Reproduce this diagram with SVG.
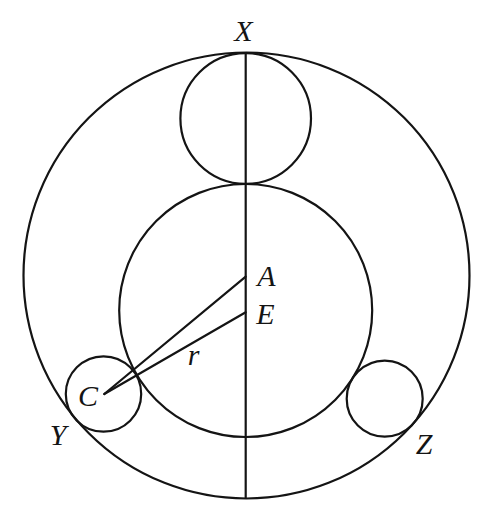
<svg xmlns="http://www.w3.org/2000/svg" width="485" height="509" viewBox="0 0 485 509">
<style>
.c{fill:none;stroke:#141414;stroke-width:2.2}
.l{fill:none;stroke:#141414;stroke-width:2.2;stroke-linecap:round}
.t{font-family:"Liberation Serif","Times New Roman",serif;font-style:italic;font-size:30px;fill:#141414;text-anchor:middle}
</style>
<rect width="485" height="509" fill="#ffffff"/>
<g id="outer"><circle class="c" cx="246.5" cy="275.5" r="223"/></g>
<g id="top-circle"><circle class="c" cx="245.7" cy="118.5" r="65.3"/></g>
<g id="middle-circle"><circle class="c" cx="245.7" cy="310.5" r="126.5"/></g>
<g id="circle-C"><circle class="c" cx="103.5" cy="394" r="37.7"/></g>
<g id="circle-Z"><circle class="c" cx="384.7" cy="398.7" r="38"/></g>
<g id="connectors">
<line class="l" x1="245.7" y1="53" x2="245.7" y2="498"/>
<line class="l" x1="245.7" y1="276.7" x2="104.3" y2="394"/>
<line class="l" x1="245.7" y1="312.3" x2="104.3" y2="394"/>
</g>
<g id="labels">
<text class="t" x="243.5" y="41">X</text>
<text class="t" x="266.5" y="286">A</text>
<text class="t" x="265.5" y="324">E</text>
<text class="t" x="193.5" y="365">r</text>
<text class="t" x="88" y="406">C</text>
<text class="t" x="58" y="445">Y</text>
<text class="t" x="424" y="454">Z</text>
</g>
</svg>
